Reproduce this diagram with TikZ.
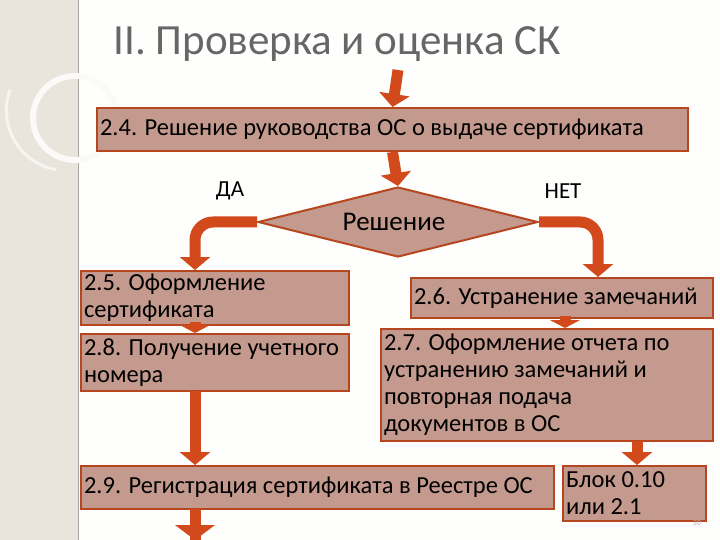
\documentclass[tikz,border=0pt]{standalone}
\usepackage{fontspec}
\setmainfont{Carlito}
\usetikzlibrary{arrows.meta,shapes.geometric}
\definecolor{boxf}{HTML}{C49A8E}
\definecolor{boxd}{HTML}{B5461F}
\definecolor{arr}{HTML}{D24A1C}
\definecolor{strip}{HTML}{E9E5DC}
\begin{document}
\begin{tikzpicture}[x=1pt,y=-1pt,
 box/.style={draw=boxd,line width=2pt,fill=boxf,inner sep=3pt,align=flush left,anchor=north west,font=\fontsize{24.5}{27}\selectfont},
 barr/.style={arr,line width=11pt,-{Triangle[length=13pt,width=30pt]}},
 sarr/.style={arr,line width=11pt,-{Triangle[length=8pt,width=30pt]}}]
\useasboundingbox (0,0) rectangle (720,540);
\fill[white!95!strip] (0,0) rectangle (720,540);
\fill[strip] (0,0) rectangle (78,540);
\draw[gray!70,line width=1pt] (78,0) -- (78,540);
\draw[white!80!strip,line width=6pt] (75,118) circle (42);
\draw[white!60!strip,line width=3pt] (10,90) arc (200:100:60);
\node[anchor=west,text=gray!80!black,font=\fontsize{43}{46}\selectfont] (title) at (110,44) {II. Проверка и оценка СК};
\coordinate (top) at (398,70);
\node[box,minimum width=591pt,minimum height=43pt,text width=585pt] (b24) at (96,107) {2.4. Решение руководства ОС о выдаче сертификата};
\node[diamond,draw=boxd,line width=2pt,fill=boxf,minimum width=280pt,minimum height=70pt,aspect=4,inner sep=0pt] (dia) at (398,222) {};
\node[font=\fontsize{27}{30}\selectfont] (dtext) at (394,222) {Решение};
\node[font=\fontsize{23}{26}\selectfont] (da) at (230,191) {ДА};
\node[font=\fontsize{23}{26}\selectfont] (net) at (563,191) {НЕТ};
\node[box,minimum width=268pt,minimum height=53pt,text width=262pt] (b25) at (80,270) {2.5. Оформление\\сертификата};
\node[box,minimum width=302pt,minimum height=40pt,text width=296pt] (b26) at (410,277) {2.6. Устранение замечаний};
\node[box,minimum width=268pt,minimum height=57pt,text width=262pt] (b28) at (80,333) {2.8. Получение учетного\\номера};
\node[box,minimum width=332pt,minimum height=112pt,text width=326pt] (b27) at (380,328) {2.7. Оформление отчета по\\устранению замечаний и\\повторная подача\\документов в ОС};
\node[box,minimum width=473pt,minimum height=43pt,text width=467pt] (b29) at (80,465) {2.9. Регистрация сертификата в Реестре ОС};
\node[box,minimum width=143pt,minimum height=55pt,text width=137pt] (blk) at (562,465) {Блок 0.10\\или 2.1};
\node[text=gray!60,font=\fontsize{8}{9}\selectfont] (pn) at (697,523) {30};
\coordinate (b29d) at (195,540);
\draw[barr] (top) -- (b24.north);
\draw[barr] (b24.south) -- (dia.north);
\draw[barr,rounded corners=18pt] (dia.west) -- (195,222) -- (195,270);
\draw[barr,rounded corners=18pt] (dia.east) -- (598,222) -- (598,277);
\draw[sarr] (195,322) -- (195,333);
\draw[sarr] (565,316) -- (565,328);
\draw[barr] (195,391) -- (195,465);
\draw[barr] (637,441) -- (637,465);
\draw[arr,line width=11pt] (195,509) -- (b29d);
\fill[arr] (175,525) -- (215,525) -- (195,540) -- cycle;
\end{tikzpicture}
\end{document}
